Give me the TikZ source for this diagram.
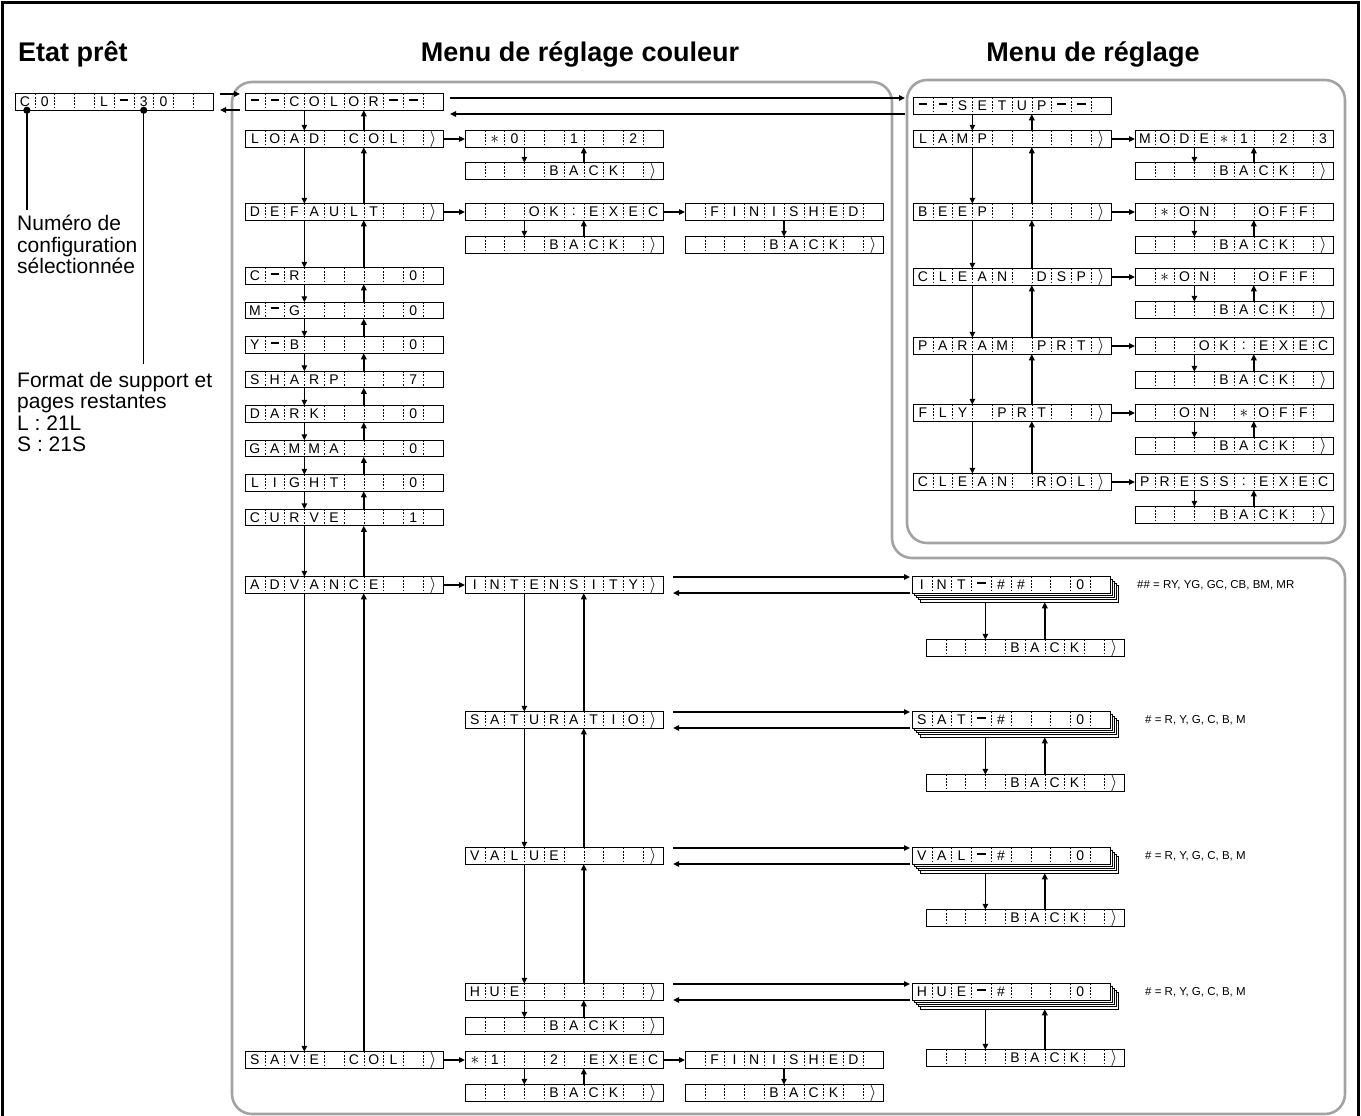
\documentclass[tikz,border=0pt]{standalone}
\usepackage{fontspec}
\setmainfont{Liberation Sans}
\usetikzlibrary{arrows.meta, calc}
\definecolor{panelgray}{HTML}{A3A3A3}
\tikzset{
  lcdframe/.style = {draw=black, line width=0.9pt, minimum width=198pt, minimum height=16.5pt,
                     inner sep=0pt, outer sep=0pt, fill=white},
  cellsep/.style  = {draw=black, line width=0.5pt, dash pattern=on 1.6pt off 1.6pt},
  lcdchar/.style  = {font=\fontsize{14}{14}\selectfont, inner sep=0pt},
  flow/.style     = {-{Triangle[length=6pt, width=5.5pt]}, line width=1.4pt},
  panel/.style    = {draw=panelgray, line width=2.6pt, rounded corners=20pt},
  title/.style    = {font=\fontsize{27}{27}\selectfont\bfseries, inner sep=0pt},
  note/.style     = {font=\fontsize{21}{21.5}\selectfont, align=left, inner sep=0pt},
  hashnote/.style = {font=\fontsize{11.5}{12}\selectfont, inner sep=0pt},
  pin/.style      = {line width=1.4pt},
}
\newcommand{\st}{{\fontsize{17}{17}\selectfont$\ast$}}
\newcommand{\gt}{{\fontsize{18}{18}\selectfont$\rangle$}}
\newcommand{\dsh}{\rule[0.3em]{0.6em}{0.14em}}
\newcommand{\lcd}[4]{%
  \node[lcdframe, anchor=west] (#1) at (#2,#3) {};
  \foreach \k in {1,...,9}
    \draw[cellsep] ($(#1.north west)!\k/10!(#1.north east)$) -- ($(#1.south west)!\k/10!(#1.south east)$);
  \foreach \ch [count=\k] in {#4}
    \node[lcdchar] at ($(#1.west)!{(\k-0.5)/10}!(#1.east)$) {\ch};}
\newcommand{\lcdstack}[4]{%
  \foreach \s in {4,3,2,1}
    \draw[lcdframe] ($(#2,#3)+(2.2*\s,-8.25+2.2*\s)$) rectangle ++(198,16.5);
  \lcd{#1}{#2}{#3}{#4}
  \coordinate (#1bot) at ([yshift=-9pt]#1.south);}
\newcommand{\updown}[2]{%
  \draw[flow] ($(#1.south west)!0.3!(#1.south east)$) -- ($(#2.north west)!0.3!(#2.north east)$);
  \draw[flow] ($(#2.north west)!0.6!(#2.north east)$) -- ($(#1.south west)!0.6!(#1.south east)$);}
\newcommand{\twoway}[4]{%
  \coordinate (#2hi) at ([yshift=8pt]#2.west);
  \coordinate (#2lo) at ([yshift=-8pt]#2.west);
  \draw[flow, shorten <=#3, shorten >=#4] (#2hi -| #1.east) -- (#2hi);
  \draw[flow, shorten <=#4, shorten >=#3] (#2lo) -- (#2lo -| #1.east);}
\newcommand{\stackback}[2]{%
  \coordinate (#2d) at ($(#2.north west)!0.3!(#2.north east)$);
  \coordinate (#2u) at ($(#2.north west)!0.6!(#2.north east)$);
  \draw[flow] (#2d |- #1bot) -- (#2d);
  \draw[flow] (#2u) -- (#2u |- #1bot);}

\begin{document}
\begin{tikzpicture}[x=1pt, y=-1pt]
  \useasboundingbox (0,0) rectangle (1361,1116);
  \draw[line width=2.6pt] (2.5,1120) -- (2.5,2.5) -- (1358.5,2.5) -- (1358.5,1120);
  \draw[panel] (232,82) -- (892,82) -- (892,558) -- (1345,558) -- (1345,1114) -- (232,1114) -- cycle;
  \draw[panel] (907,80) rectangle (1345,543);
  \node[title, anchor=base west] (tready) at (18,62) {Etat prêt};
  \node[title, anchor=base] (tcolor) at (580,62) {Menu de réglage couleur};
  \node[title, anchor=base] (tsetup) at (1093,62) {Menu de réglage};

  \lcd{ready}{15}{102}{C,0,{},{},L,\dsh,3,0,{},{}}
  \lcd{color}{245}{102}{\dsh,\dsh,C,O,L,O,R,\dsh,\dsh,{}}
  \lcd{loadcol}{245}{139}{L,O,A,D,{},C,O,L,{},\gt}
  \lcd{default}{245}{212}{D,E,F,A,U,L,T,{},{},\gt}
  \lcd{cr}{245}{276}{C,\dsh,R,{},{},{},{},{},0,{}}
  \lcd{mg}{245}{310.5}{M,\dsh,G,{},{},{},{},{},0,{}}
  \lcd{yb}{245}{345}{Y,\dsh,B,{},{},{},{},{},0,{}}
  \lcd{sharp}{245}{379.5}{S,H,A,R,P,{},{},{},7,{}}
  \lcd{dark}{245}{414}{D,A,R,K,{},{},{},{},0,{}}
  \lcd{gamma}{245}{448.5}{G,A,M,M,A,{},{},{},0,{}}
  \lcd{light}{245}{483}{L,I,G,H,T,{},{},{},0,{}}
  \lcd{curve}{245}{517.5}{C,U,R,V,E,{},{},{},1,{}}
  \lcd{advance}{245}{585}{A,D,V,A,N,C,E,{},{},\gt}
  \lcd{savecol}{245}{1060}{S,A,V,E,{},C,O,L,{},\gt}

  \lcd{loadsel}{465}{139}{{},\st,0,{},{},1,{},{},2,{}}
  \lcd{loadback}{465}{171}{{},{},{},{},B,A,C,K,{},\gt}
  \lcd{defexec}{465}{212}{{},{},{},O,K,:,E,X,E,C}
  \lcd{defexecback}{465}{245}{{},{},{},{},B,A,C,K,{},\gt}
  \lcd{deffin}{685}{212}{{},F,I,N,I,S,H,E,D,{}}
  \lcd{deffinback}{685}{245}{{},{},{},{},B,A,C,K,{},\gt}
  \lcd{intensity}{465}{585}{I,N,T,E,N,S,I,T,Y,\gt}
  \lcd{saturatio}{465}{720}{S,A,T,U,R,A,T,I,O,\gt}
  \lcd{value}{465}{856}{V,A,L,U,E,{},{},{},{},\gt}
  \lcd{hue}{465}{992}{H,U,E,{},{},{},{},{},{},\gt}
  \lcd{hueback}{465}{1026}{{},{},{},{},B,A,C,K,{},\gt}
  \lcd{savesel}{465}{1060}{\st,1,{},{},2,{},E,X,E,C}
  \lcd{saveselback}{465}{1093}{{},{},{},{},B,A,C,K,{},\gt}
  \lcd{savefin}{685}{1060}{{},F,I,N,I,S,H,E,D,{}}
  \lcd{savefinback}{685}{1093}{{},{},{},{},B,A,C,K,{},\gt}

  \lcd{setup}{913}{106}{\dsh,\dsh,S,E,T,U,P,\dsh,\dsh,{}}
  \lcd{lamp}{913}{139}{L,A,M,P,{},{},{},{},{},\gt}
  \lcd{beep}{913}{212}{B,E,E,P,{},{},{},{},{},\gt}
  \lcd{cleandsp}{913}{277}{C,L,E,A,N,{},D,S,P,\gt}
  \lcd{paramprt}{913}{346}{P,A,R,A,M,{},P,R,T,\gt}
  \lcd{flyprt}{913}{413}{F,L,Y,{},P,R,T,{},{},\gt}
  \lcd{cleanrol}{913}{482}{C,L,E,A,N,{},R,O,L,\gt}
  \lcd{lampsel}{1135}{139}{M,O,D,E,\st,1,{},2,{},3}
  \lcd{lampback}{1135}{171}{{},{},{},{},B,A,C,K,{},\gt}
  \lcd{beepsel}{1135}{212}{{},\st,O,N,{},{},O,F,F,{}}
  \lcd{beepback}{1135}{245}{{},{},{},{},B,A,C,K,{},\gt}
  \lcd{dspsel}{1135}{277}{{},\st,O,N,{},{},O,F,F,{}}
  \lcd{dspback}{1135}{310}{{},{},{},{},B,A,C,K,{},\gt}
  \lcd{paramsel}{1135}{346}{{},{},{},O,K,:,E,X,E,C}
  \lcd{paramback}{1135}{380}{{},{},{},{},B,A,C,K,{},\gt}
  \lcd{flysel}{1135}{413}{{},{},O,N,{},\st,O,F,F,{}}
  \lcd{flyback}{1135}{446}{{},{},{},{},B,A,C,K,{},\gt}
  \lcd{rolsel}{1135}{482}{P,R,E,S,S,:,E,X,E,C}
  \lcd{rolback}{1135}{515}{{},{},{},{},B,A,C,K,{},\gt}

  \lcdstack{intstk}{912}{585}{I,N,T,\dsh,\#,\#,{},{},0,{}}
  \lcd{intback}{926}{648}{{},{},{},{},B,A,C,K,{},\gt}
  \lcdstack{satstk}{912}{720}{S,A,T,\dsh,\#,{},{},{},0,{}}
  \lcd{satback}{926}{783}{{},{},{},{},B,A,C,K,{},\gt}
  \lcdstack{valstk}{912}{856}{V,A,L,\dsh,\#,{},{},{},0,{}}
  \lcd{valback}{926}{918}{{},{},{},{},B,A,C,K,{},\gt}
  \lcdstack{huestk}{912}{992}{H,U,E,\dsh,\#,{},{},{},0,{}}
  \lcd{huestkback}{926}{1058}{{},{},{},{},B,A,C,K,{},\gt}
  \node[hashnote, anchor=west] (intnote) at (1137,585) {\#\# = RY, YG, GC, CB, BM, MR};
  \node[hashnote, anchor=west] (satnote) at (1145,720) {\# = R, Y, G, C, B, M};
  \node[hashnote, anchor=west] (valnote) at (1145,856) {\# = R, Y, G, C, B, M};
  \node[hashnote, anchor=west] (huenote) at (1145,992) {\# = R, Y, G, C, B, M};

  \node[note, anchor=north west] (numtxt) at (17,215) {Numéro de\\configuration\\sélectionnée};
  \node[note, anchor=north west] (fmttxt) at (17,372) {Format de support et\\pages restantes\\L : 21L\\S : 21S};
  \coordinate (numpin) at ($(ready.south west)!0.06!(ready.south east)$);
  \coordinate (fmtpin) at ($(ready.south west)!0.65!(ready.south east)$);
  \draw[pin] (numpin) -- ([yshift=5pt]numpin |- numtxt.north);
  \draw[pin] (fmtpin) -- ([yshift=8pt]fmtpin |- fmttxt.north);
  \fill (numpin) circle (3.6pt);
  \fill (fmtpin) circle (3.6pt);

  \twoway{ready}{color}{7pt}{5pt}
  \twoway{color}{setup}{7pt}{8pt}
  \twoway{intensity}{intstk}{10pt}{2pt}
  \twoway{saturatio}{satstk}{10pt}{2pt}
  \twoway{value}{valstk}{10pt}{2pt}
  \twoway{hue}{huestk}{10pt}{2pt}

  \updown{color}{loadcol}
  \updown{loadcol}{default}
  \updown{default}{cr}
  \updown{cr}{mg}
  \updown{mg}{yb}
  \updown{yb}{sharp}
  \updown{sharp}{dark}
  \updown{dark}{gamma}
  \updown{gamma}{light}
  \updown{light}{curve}
  \updown{curve}{advance}
  \updown{advance}{savecol}
  \updown{loadsel}{loadback}
  \updown{defexec}{defexecback}
  \updown{intensity}{saturatio}
  \updown{saturatio}{value}
  \updown{value}{hue}
  \updown{hue}{hueback}
  \updown{savesel}{saveselback}
  \draw[flow] ($(deffin.south west)!0.5!(deffin.south east)$) -- ($(deffinback.north west)!0.5!(deffinback.north east)$);
  \draw[flow] ($(savefin.south west)!0.5!(savefin.south east)$) -- ($(savefinback.north west)!0.5!(savefinback.north east)$);

  \updown{setup}{lamp}
  \updown{lamp}{beep}
  \updown{beep}{cleandsp}
  \updown{cleandsp}{paramprt}
  \updown{paramprt}{flyprt}
  \updown{flyprt}{cleanrol}
  \updown{lampsel}{lampback}
  \updown{beepsel}{beepback}
  \updown{dspsel}{dspback}
  \updown{paramsel}{paramback}
  \updown{flysel}{flyback}
  \updown{rolsel}{rolback}
  \stackback{intstk}{intback}
  \stackback{satstk}{satback}
  \stackback{valstk}{valback}
  \stackback{huestk}{huestkback}

  \draw[flow] (loadcol) -- (loadsel);
  \draw[flow] (default) -- (defexec);
  \draw[flow] (defexec) -- (deffin);
  \draw[flow] (advance) -- (intensity);
  \draw[flow] (savecol) -- (savesel);
  \draw[flow] (savesel) -- (savefin);
  \draw[flow] (lamp) -- (lampsel);
  \draw[flow] (beep) -- (beepsel);
  \draw[flow] (cleandsp) -- (dspsel);
  \draw[flow] (paramprt) -- (paramsel);
  \draw[flow] (flyprt) -- (flysel);
  \draw[flow] (cleanrol) -- (rolsel);
\end{tikzpicture}
\end{document}
